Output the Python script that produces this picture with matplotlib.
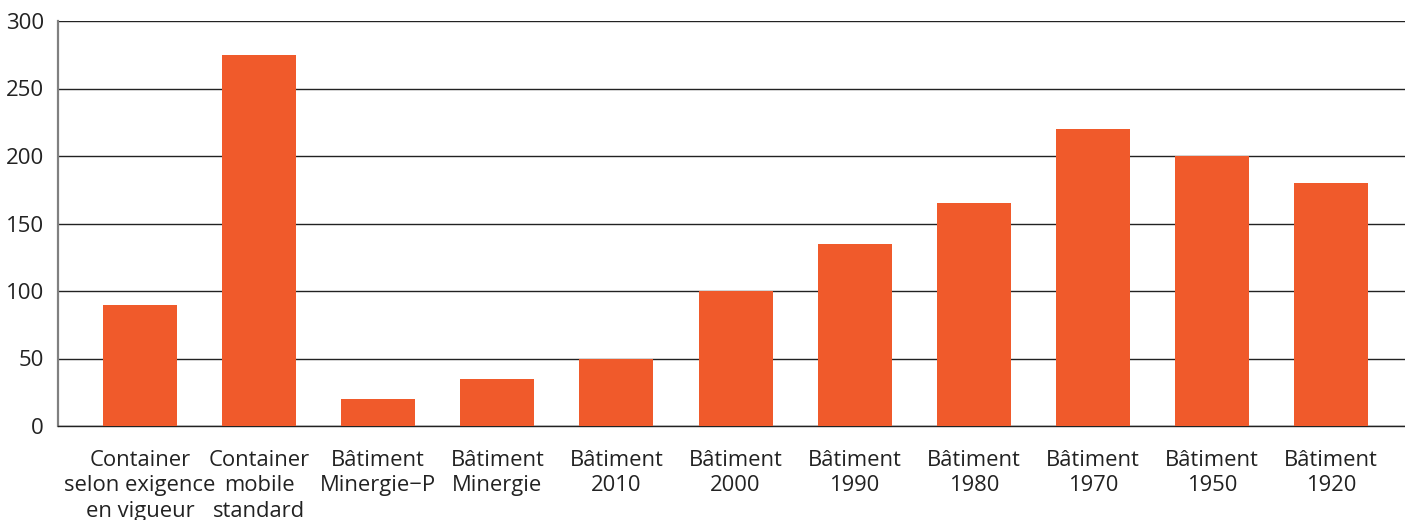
import matplotlib
matplotlib.use("Agg")
import matplotlib.pyplot as plt

categories = ["Container\nselon exigence\nen vigueur", "Container\nmobile\nstandard",
              "Bâtiment\nMinergie\u2212P", "Bâtiment\nMinergie", "Bâtiment\n2010",
              "Bâtiment\n2000", "Bâtiment\n1990", "Bâtiment\n1980", "Bâtiment\n1970",
              "Bâtiment\n1950", "Bâtiment\n1920"]
values = [90, 275, 20, 35, 50, 100, 135, 165, 220, 200, 180]
yticks = [0, 50, 100, 150, 200, 250, 300]

plt.rcParams['font.family'] = ['Open Sans', 'DejaVu Sans']

fig = plt.figure(figsize=(14.05, 5.2), dpi=100)
ax = fig.add_axes([58/1405, 1-426/520, 1-58/1405, (426-21)/520])

x = list(range(len(categories)))
ax.bar(x, values, width=0.621, color="#F05A2B", zorder=3)

ax.set_ylim(0, 300)
ax.set_xlim(-0.6885, 10.621)
ax.set_yticks(yticks)
ax.set_yticklabels([str(t) for t in yticks])
ax.set_xticks(x)
ax.set_xticklabels(categories, linespacing=1.3)
ax.yaxis.grid(True, color="#222222", linewidth=1.0, zorder=1)
ax.set_axisbelow(True)
for s in ["top", "right"]:
    ax.spines[s].set_visible(False)
ax.spines["bottom"].set_color("#222222")
ax.spines["bottom"].set_linewidth(1.0)
ax.spines["left"].set_color("#808080")
ax.spines["left"].set_linewidth(1.6)
ax.tick_params(axis="both", length=0, labelsize=16, colors="#222222")
ax.tick_params(axis="x", labelsize=15.8, pad=17)
ax.tick_params(axis="y", pad=10)

fig.savefig("out.png", dpi=100)
